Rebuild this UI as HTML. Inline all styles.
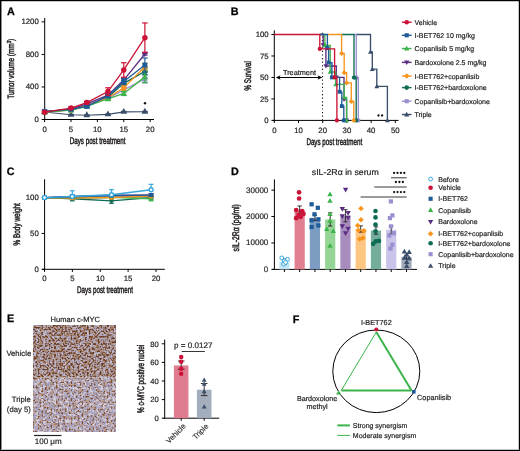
<!DOCTYPE html>
<html><head><meta charset="utf-8"><style>
html,body{margin:0;padding:0;background:#fff;}
body{width:520px;height:451px;overflow:hidden;}
svg{display:block;font-family:"Liberation Sans", sans-serif;text-rendering:geometricPrecision;will-change:transform;}
</style></head><body>
<svg width="520" height="451" viewBox="0 0 520 451">
<rect x="0" y="0" width="520" height="451" fill="#fff"/>
<text x="10.8" y="14.6" font-size="10.8" font-weight="bold" text-anchor="middle" fill="#000" stroke="#000" stroke-width="0.25">A</text>
<text x="234.55" y="14.7" font-size="10.8" font-weight="bold" text-anchor="middle" fill="#000" stroke="#000" stroke-width="0.25">B</text>
<text x="10.65" y="174.6" font-size="10.8" font-weight="bold" text-anchor="middle" fill="#000" stroke="#000" stroke-width="0.25">C</text>
<text x="234.95" y="174.8" font-size="10.8" font-weight="bold" text-anchor="middle" fill="#000" stroke="#000" stroke-width="0.25">D</text>
<text x="10.6" y="322.3" font-size="10.8" font-weight="bold" text-anchor="middle" fill="#000" stroke="#000" stroke-width="0.25">E</text>
<text x="296.15" y="322.5" font-size="10.8" font-weight="bold" text-anchor="middle" fill="#000" stroke="#000" stroke-width="0.25">F</text>
<line x1="44.70" y1="18.00" x2="44.70" y2="120.00" stroke="#000" stroke-width="1"/>
<line x1="42.20" y1="119.50" x2="154.00" y2="119.50" stroke="#000" stroke-width="1"/>
<line x1="41.60" y1="119.50" x2="44.70" y2="119.50" stroke="#000" stroke-width="1"/>
<text x="38.80" y="121.75" font-size="7.8" text-anchor="end" font-weight="normal" fill="#231f20" stroke="#231f20" stroke-width="0.2">0</text>
<line x1="41.60" y1="86.97" x2="44.70" y2="86.97" stroke="#000" stroke-width="1"/>
<text x="38.80" y="89.22" font-size="7.8" text-anchor="end" font-weight="normal" fill="#231f20" stroke="#231f20" stroke-width="0.2">400</text>
<line x1="41.60" y1="54.44" x2="44.70" y2="54.44" stroke="#000" stroke-width="1"/>
<text x="38.80" y="56.69" font-size="7.8" text-anchor="end" font-weight="normal" fill="#231f20" stroke="#231f20" stroke-width="0.2">800</text>
<line x1="41.60" y1="21.90" x2="44.70" y2="21.90" stroke="#000" stroke-width="1"/>
<text x="38.80" y="24.15" font-size="7.8" text-anchor="end" font-weight="normal" fill="#231f20" stroke="#231f20" stroke-width="0.2">1200</text>
<line x1="44.60" y1="119.50" x2="44.60" y2="122.10" stroke="#000" stroke-width="1"/>
<text x="44.60" y="131.50" font-size="7.8" text-anchor="middle" font-weight="normal" fill="#231f20" stroke="#231f20" stroke-width="0.2">0</text>
<line x1="70.99" y1="119.50" x2="70.99" y2="122.10" stroke="#000" stroke-width="1"/>
<text x="70.99" y="131.50" font-size="7.8" text-anchor="middle" font-weight="normal" fill="#231f20" stroke="#231f20" stroke-width="0.2">5</text>
<line x1="97.38" y1="119.50" x2="97.38" y2="122.10" stroke="#000" stroke-width="1"/>
<text x="97.38" y="131.50" font-size="7.8" text-anchor="middle" font-weight="normal" fill="#231f20" stroke="#231f20" stroke-width="0.2">10</text>
<line x1="123.77" y1="119.50" x2="123.77" y2="122.10" stroke="#000" stroke-width="1"/>
<text x="123.77" y="131.50" font-size="7.8" text-anchor="middle" font-weight="normal" fill="#231f20" stroke="#231f20" stroke-width="0.2">15</text>
<line x1="150.16" y1="119.50" x2="150.16" y2="122.10" stroke="#000" stroke-width="1"/>
<text x="150.16" y="131.50" font-size="7.8" text-anchor="middle" font-weight="normal" fill="#231f20" stroke="#231f20" stroke-width="0.2">20</text>
<text x="97.65" y="144.30" font-size="9.6" text-anchor="middle" fill="#231f20" stroke="#231f20" stroke-width="0.5" textLength="55.8" lengthAdjust="spacingAndGlyphs">Days post treatment</text>
<text transform="translate(14.4 68.8) rotate(-90)" font-size="9.2" text-anchor="middle" fill="#231f20" stroke="#231f20" stroke-width="0.5" textLength="60.0" lengthAdjust="spacingAndGlyphs">Tumor volume (mm<tspan font-size="6" dy="-3.4">3</tspan><tspan dy="3.4">)</tspan></text>
<line x1="70.99" y1="114.54" x2="70.99" y2="115.03" stroke="#3b4f6b" stroke-width="1.2"/>
<line x1="68.19" y1="114.54" x2="73.79" y2="114.54" stroke="#3b4f6b" stroke-width="1.2"/>
<line x1="68.19" y1="115.03" x2="73.79" y2="115.03" stroke="#3b4f6b" stroke-width="1.2"/>
<line x1="86.82" y1="115.03" x2="86.82" y2="115.51" stroke="#3b4f6b" stroke-width="1.2"/>
<line x1="84.02" y1="115.03" x2="89.62" y2="115.03" stroke="#3b4f6b" stroke-width="1.2"/>
<line x1="84.02" y1="115.51" x2="89.62" y2="115.51" stroke="#3b4f6b" stroke-width="1.2"/>
<line x1="107.94" y1="114.13" x2="107.94" y2="114.62" stroke="#3b4f6b" stroke-width="1.2"/>
<line x1="105.14" y1="114.13" x2="110.74" y2="114.13" stroke="#3b4f6b" stroke-width="1.2"/>
<line x1="105.14" y1="114.62" x2="110.74" y2="114.62" stroke="#3b4f6b" stroke-width="1.2"/>
<line x1="123.77" y1="111.45" x2="123.77" y2="112.26" stroke="#3b4f6b" stroke-width="1.2"/>
<line x1="120.97" y1="111.45" x2="126.57" y2="111.45" stroke="#3b4f6b" stroke-width="1.2"/>
<line x1="120.97" y1="112.26" x2="126.57" y2="112.26" stroke="#3b4f6b" stroke-width="1.2"/>
<line x1="144.88" y1="111.37" x2="144.88" y2="112.18" stroke="#3b4f6b" stroke-width="1.2"/>
<line x1="142.08" y1="111.37" x2="147.68" y2="111.37" stroke="#3b4f6b" stroke-width="1.2"/>
<line x1="142.08" y1="112.18" x2="147.68" y2="112.18" stroke="#3b4f6b" stroke-width="1.2"/>
<polyline points="44.60,112.02 70.99,114.78 86.82,115.27 107.94,114.38 123.77,111.85 144.88,111.77" fill="none" stroke="#3b4f6b" stroke-width="1.1"/>
<path d="M44.60 108.08L47.94 113.92L41.27 113.92Z" fill="#3b4f6b"/>
<path d="M70.99 110.85L74.32 116.68L67.66 116.68Z" fill="#3b4f6b"/>
<path d="M86.82 111.34L90.16 117.17L83.49 117.17Z" fill="#3b4f6b"/>
<path d="M107.94 110.44L111.27 116.28L104.60 116.28Z" fill="#3b4f6b"/>
<path d="M123.77 107.92L127.10 113.76L120.43 113.76Z" fill="#3b4f6b"/>
<path d="M144.88 107.84L148.22 113.67L141.55 113.67Z" fill="#3b4f6b"/>
<line x1="70.99" y1="109.50" x2="70.99" y2="110.31" stroke="#9c8fd0" stroke-width="1.2"/>
<line x1="68.19" y1="109.50" x2="73.79" y2="109.50" stroke="#9c8fd0" stroke-width="1.2"/>
<line x1="68.19" y1="110.31" x2="73.79" y2="110.31" stroke="#9c8fd0" stroke-width="1.2"/>
<line x1="86.82" y1="105.43" x2="86.82" y2="106.73" stroke="#9c8fd0" stroke-width="1.2"/>
<line x1="84.02" y1="105.43" x2="89.62" y2="105.43" stroke="#9c8fd0" stroke-width="1.2"/>
<line x1="84.02" y1="106.73" x2="89.62" y2="106.73" stroke="#9c8fd0" stroke-width="1.2"/>
<line x1="107.94" y1="96.97" x2="107.94" y2="99.41" stroke="#9c8fd0" stroke-width="1.2"/>
<line x1="105.14" y1="96.97" x2="110.74" y2="96.97" stroke="#9c8fd0" stroke-width="1.2"/>
<line x1="105.14" y1="99.41" x2="110.74" y2="99.41" stroke="#9c8fd0" stroke-width="1.2"/>
<line x1="123.77" y1="87.86" x2="123.77" y2="91.93" stroke="#9c8fd0" stroke-width="1.2"/>
<line x1="120.97" y1="87.86" x2="126.57" y2="87.86" stroke="#9c8fd0" stroke-width="1.2"/>
<line x1="120.97" y1="91.93" x2="126.57" y2="91.93" stroke="#9c8fd0" stroke-width="1.2"/>
<line x1="144.88" y1="74.93" x2="144.88" y2="83.06" stroke="#9c8fd0" stroke-width="1.2"/>
<line x1="142.08" y1="74.93" x2="147.68" y2="74.93" stroke="#9c8fd0" stroke-width="1.2"/>
<line x1="142.08" y1="83.06" x2="147.68" y2="83.06" stroke="#9c8fd0" stroke-width="1.2"/>
<polyline points="44.60,111.77 70.99,109.90 86.82,106.08 107.94,98.19 123.77,89.90 144.88,79.00" fill="none" stroke="#9c8fd0" stroke-width="1.3"/>
<rect x="42.12" y="109.30" width="4.95" height="4.95" fill="#9c8fd0"/>
<rect x="68.52" y="107.43" width="4.95" height="4.95" fill="#9c8fd0"/>
<rect x="84.35" y="103.61" width="4.95" height="4.95" fill="#9c8fd0"/>
<rect x="105.46" y="95.72" width="4.95" height="4.95" fill="#9c8fd0"/>
<rect x="121.29" y="87.42" width="4.95" height="4.95" fill="#9c8fd0"/>
<rect x="142.41" y="76.52" width="4.95" height="4.95" fill="#9c8fd0"/>
<line x1="70.99" y1="109.17" x2="70.99" y2="109.98" stroke="#0e6b55" stroke-width="1.2"/>
<line x1="68.19" y1="109.17" x2="73.79" y2="109.17" stroke="#0e6b55" stroke-width="1.2"/>
<line x1="68.19" y1="109.98" x2="73.79" y2="109.98" stroke="#0e6b55" stroke-width="1.2"/>
<line x1="86.82" y1="104.86" x2="86.82" y2="106.16" stroke="#0e6b55" stroke-width="1.2"/>
<line x1="84.02" y1="104.86" x2="89.62" y2="104.86" stroke="#0e6b55" stroke-width="1.2"/>
<line x1="84.02" y1="106.16" x2="89.62" y2="106.16" stroke="#0e6b55" stroke-width="1.2"/>
<line x1="107.94" y1="95.91" x2="107.94" y2="98.35" stroke="#0e6b55" stroke-width="1.2"/>
<line x1="105.14" y1="95.91" x2="110.74" y2="95.91" stroke="#0e6b55" stroke-width="1.2"/>
<line x1="105.14" y1="98.35" x2="110.74" y2="98.35" stroke="#0e6b55" stroke-width="1.2"/>
<line x1="123.77" y1="80.87" x2="123.77" y2="85.75" stroke="#0e6b55" stroke-width="1.2"/>
<line x1="120.97" y1="80.87" x2="126.57" y2="80.87" stroke="#0e6b55" stroke-width="1.2"/>
<line x1="120.97" y1="85.75" x2="126.57" y2="85.75" stroke="#0e6b55" stroke-width="1.2"/>
<line x1="144.88" y1="68.18" x2="144.88" y2="74.69" stroke="#0e6b55" stroke-width="1.2"/>
<line x1="142.08" y1="68.18" x2="147.68" y2="68.18" stroke="#0e6b55" stroke-width="1.2"/>
<line x1="142.08" y1="74.69" x2="147.68" y2="74.69" stroke="#0e6b55" stroke-width="1.2"/>
<polyline points="44.60,111.77 70.99,109.58 86.82,105.51 107.94,97.13 123.77,83.31 144.88,71.43" fill="none" stroke="#0e6b55" stroke-width="1.3"/>
<circle cx="44.60" cy="111.77" r="2.75" fill="#0e6b55"/>
<circle cx="70.99" cy="109.58" r="2.75" fill="#0e6b55"/>
<circle cx="86.82" cy="105.51" r="2.75" fill="#0e6b55"/>
<circle cx="107.94" cy="97.13" r="2.75" fill="#0e6b55"/>
<circle cx="123.77" cy="83.31" r="2.75" fill="#0e6b55"/>
<circle cx="144.88" cy="71.43" r="2.75" fill="#0e6b55"/>
<line x1="70.99" y1="109.50" x2="70.99" y2="110.31" stroke="#f7941d" stroke-width="1.2"/>
<line x1="68.19" y1="109.50" x2="73.79" y2="109.50" stroke="#f7941d" stroke-width="1.2"/>
<line x1="68.19" y1="110.31" x2="73.79" y2="110.31" stroke="#f7941d" stroke-width="1.2"/>
<line x1="86.82" y1="105.02" x2="86.82" y2="106.32" stroke="#f7941d" stroke-width="1.2"/>
<line x1="84.02" y1="105.02" x2="89.62" y2="105.02" stroke="#f7941d" stroke-width="1.2"/>
<line x1="84.02" y1="106.32" x2="89.62" y2="106.32" stroke="#f7941d" stroke-width="1.2"/>
<line x1="107.94" y1="96.48" x2="107.94" y2="98.92" stroke="#f7941d" stroke-width="1.2"/>
<line x1="105.14" y1="96.48" x2="110.74" y2="96.48" stroke="#f7941d" stroke-width="1.2"/>
<line x1="105.14" y1="98.92" x2="110.74" y2="98.92" stroke="#f7941d" stroke-width="1.2"/>
<line x1="123.77" y1="85.42" x2="123.77" y2="90.30" stroke="#f7941d" stroke-width="1.2"/>
<line x1="120.97" y1="85.42" x2="126.57" y2="85.42" stroke="#f7941d" stroke-width="1.2"/>
<line x1="120.97" y1="90.30" x2="126.57" y2="90.30" stroke="#f7941d" stroke-width="1.2"/>
<line x1="144.88" y1="63.54" x2="144.88" y2="70.05" stroke="#f7941d" stroke-width="1.2"/>
<line x1="142.08" y1="63.54" x2="147.68" y2="63.54" stroke="#f7941d" stroke-width="1.2"/>
<line x1="142.08" y1="70.05" x2="147.68" y2="70.05" stroke="#f7941d" stroke-width="1.2"/>
<polyline points="44.60,112.02 70.99,109.90 86.82,105.67 107.94,97.70 123.77,87.86 144.88,66.80" fill="none" stroke="#f7941d" stroke-width="1.3"/>
<path d="M44.60 108.72L47.90 112.02L44.60 115.32L41.30 112.02Z" fill="#f7941d"/>
<path d="M70.99 106.60L74.29 109.90L70.99 113.20L67.69 109.90Z" fill="#f7941d"/>
<path d="M86.82 102.37L90.12 105.67L86.82 108.97L83.52 105.67Z" fill="#f7941d"/>
<path d="M107.94 94.40L111.24 97.70L107.94 101.00L104.64 97.70Z" fill="#f7941d"/>
<path d="M123.77 84.56L127.07 87.86L123.77 91.16L120.47 87.86Z" fill="#f7941d"/>
<path d="M144.88 63.50L148.18 66.80L144.88 70.10L141.58 66.80Z" fill="#f7941d"/>
<line x1="70.99" y1="108.85" x2="70.99" y2="109.33" stroke="#5a2d82" stroke-width="1.2"/>
<line x1="68.19" y1="108.85" x2="73.79" y2="108.85" stroke="#5a2d82" stroke-width="1.2"/>
<line x1="68.19" y1="109.33" x2="73.79" y2="109.33" stroke="#5a2d82" stroke-width="1.2"/>
<line x1="86.82" y1="103.48" x2="86.82" y2="104.29" stroke="#5a2d82" stroke-width="1.2"/>
<line x1="84.02" y1="103.48" x2="89.62" y2="103.48" stroke="#5a2d82" stroke-width="1.2"/>
<line x1="84.02" y1="104.29" x2="89.62" y2="104.29" stroke="#5a2d82" stroke-width="1.2"/>
<line x1="107.94" y1="94.29" x2="107.94" y2="95.91" stroke="#5a2d82" stroke-width="1.2"/>
<line x1="105.14" y1="94.29" x2="110.74" y2="94.29" stroke="#5a2d82" stroke-width="1.2"/>
<line x1="105.14" y1="95.91" x2="110.74" y2="95.91" stroke="#5a2d82" stroke-width="1.2"/>
<line x1="123.77" y1="78.43" x2="123.77" y2="81.68" stroke="#5a2d82" stroke-width="1.2"/>
<line x1="120.97" y1="78.43" x2="126.57" y2="78.43" stroke="#5a2d82" stroke-width="1.2"/>
<line x1="120.97" y1="81.68" x2="126.57" y2="81.68" stroke="#5a2d82" stroke-width="1.2"/>
<line x1="144.88" y1="53.05" x2="144.88" y2="55.01" stroke="#5a2d82" stroke-width="1.2"/>
<line x1="142.08" y1="53.05" x2="147.68" y2="53.05" stroke="#5a2d82" stroke-width="1.2"/>
<line x1="142.08" y1="55.01" x2="147.68" y2="55.01" stroke="#5a2d82" stroke-width="1.2"/>
<polyline points="44.60,112.02 70.99,109.09 86.82,103.88 107.94,95.10 123.77,80.05 144.88,54.03" fill="none" stroke="#5a2d82" stroke-width="1.3"/>
<path d="M44.60 115.18L47.76 109.65L41.44 109.65Z" fill="#5a2d82"/>
<path d="M70.99 112.25L74.15 106.72L67.83 106.72Z" fill="#5a2d82"/>
<path d="M86.82 107.05L89.99 101.51L83.66 101.51Z" fill="#5a2d82"/>
<path d="M107.94 98.26L111.10 92.73L104.77 92.73Z" fill="#5a2d82"/>
<path d="M123.77 83.22L126.93 77.68L120.61 77.68Z" fill="#5a2d82"/>
<path d="M144.88 57.19L148.04 51.66L141.72 51.66Z" fill="#5a2d82"/>
<line x1="70.99" y1="109.74" x2="70.99" y2="110.55" stroke="#3cb44b" stroke-width="1.2"/>
<line x1="68.19" y1="109.74" x2="73.79" y2="109.74" stroke="#3cb44b" stroke-width="1.2"/>
<line x1="68.19" y1="110.55" x2="73.79" y2="110.55" stroke="#3cb44b" stroke-width="1.2"/>
<line x1="86.82" y1="105.84" x2="86.82" y2="107.14" stroke="#3cb44b" stroke-width="1.2"/>
<line x1="84.02" y1="105.84" x2="89.62" y2="105.84" stroke="#3cb44b" stroke-width="1.2"/>
<line x1="84.02" y1="107.14" x2="89.62" y2="107.14" stroke="#3cb44b" stroke-width="1.2"/>
<line x1="107.94" y1="97.54" x2="107.94" y2="99.98" stroke="#3cb44b" stroke-width="1.2"/>
<line x1="105.14" y1="97.54" x2="110.74" y2="97.54" stroke="#3cb44b" stroke-width="1.2"/>
<line x1="105.14" y1="99.98" x2="110.74" y2="99.98" stroke="#3cb44b" stroke-width="1.2"/>
<line x1="123.77" y1="91.44" x2="123.77" y2="95.51" stroke="#3cb44b" stroke-width="1.2"/>
<line x1="120.97" y1="91.44" x2="126.57" y2="91.44" stroke="#3cb44b" stroke-width="1.2"/>
<line x1="120.97" y1="95.51" x2="126.57" y2="95.51" stroke="#3cb44b" stroke-width="1.2"/>
<line x1="144.88" y1="71.35" x2="144.88" y2="82.41" stroke="#3cb44b" stroke-width="1.2"/>
<line x1="142.08" y1="71.35" x2="147.68" y2="71.35" stroke="#3cb44b" stroke-width="1.2"/>
<line x1="142.08" y1="82.41" x2="147.68" y2="82.41" stroke="#3cb44b" stroke-width="1.2"/>
<polyline points="44.60,112.18 70.99,110.15 86.82,106.49 107.94,98.76 123.77,93.47 144.88,76.88" fill="none" stroke="#3cb44b" stroke-width="1.3"/>
<path d="M44.60 109.02L47.76 114.55L41.44 114.55Z" fill="#3cb44b"/>
<path d="M70.99 106.98L74.15 112.52L67.83 112.52Z" fill="#3cb44b"/>
<path d="M86.82 103.32L89.99 108.86L83.66 108.86Z" fill="#3cb44b"/>
<path d="M107.94 95.60L111.10 101.13L104.77 101.13Z" fill="#3cb44b"/>
<path d="M123.77 90.31L126.93 95.85L120.61 95.85Z" fill="#3cb44b"/>
<path d="M144.88 73.72L148.04 79.25L141.72 79.25Z" fill="#3cb44b"/>
<line x1="70.99" y1="108.93" x2="70.99" y2="109.74" stroke="#1f5b98" stroke-width="1.2"/>
<line x1="68.19" y1="108.93" x2="73.79" y2="108.93" stroke="#1f5b98" stroke-width="1.2"/>
<line x1="68.19" y1="109.74" x2="73.79" y2="109.74" stroke="#1f5b98" stroke-width="1.2"/>
<line x1="86.82" y1="105.67" x2="86.82" y2="106.98" stroke="#1f5b98" stroke-width="1.2"/>
<line x1="84.02" y1="105.67" x2="89.62" y2="105.67" stroke="#1f5b98" stroke-width="1.2"/>
<line x1="84.02" y1="106.98" x2="89.62" y2="106.98" stroke="#1f5b98" stroke-width="1.2"/>
<line x1="107.94" y1="94.29" x2="107.94" y2="97.54" stroke="#1f5b98" stroke-width="1.2"/>
<line x1="105.14" y1="94.29" x2="110.74" y2="94.29" stroke="#1f5b98" stroke-width="1.2"/>
<line x1="105.14" y1="97.54" x2="110.74" y2="97.54" stroke="#1f5b98" stroke-width="1.2"/>
<line x1="123.77" y1="78.18" x2="123.77" y2="84.69" stroke="#1f5b98" stroke-width="1.2"/>
<line x1="120.97" y1="78.18" x2="126.57" y2="78.18" stroke="#1f5b98" stroke-width="1.2"/>
<line x1="120.97" y1="84.69" x2="126.57" y2="84.69" stroke="#1f5b98" stroke-width="1.2"/>
<line x1="144.88" y1="58.01" x2="144.88" y2="72.00" stroke="#1f5b98" stroke-width="1.2"/>
<line x1="142.08" y1="58.01" x2="147.68" y2="58.01" stroke="#1f5b98" stroke-width="1.2"/>
<line x1="142.08" y1="72.00" x2="147.68" y2="72.00" stroke="#1f5b98" stroke-width="1.2"/>
<polyline points="44.60,111.37 70.99,109.33 86.82,106.32 107.94,95.91 123.77,81.44 144.88,65.01" fill="none" stroke="#1f5b98" stroke-width="1.3"/>
<rect x="42.12" y="108.89" width="4.95" height="4.95" fill="#1f5b98"/>
<rect x="68.52" y="106.86" width="4.95" height="4.95" fill="#1f5b98"/>
<rect x="84.35" y="103.85" width="4.95" height="4.95" fill="#1f5b98"/>
<rect x="105.46" y="93.44" width="4.95" height="4.95" fill="#1f5b98"/>
<rect x="121.29" y="78.96" width="4.95" height="4.95" fill="#1f5b98"/>
<rect x="142.41" y="62.53" width="4.95" height="4.95" fill="#1f5b98"/>
<line x1="70.99" y1="107.46" x2="70.99" y2="108.76" stroke="#cc1236" stroke-width="1.2"/>
<line x1="68.19" y1="107.46" x2="73.79" y2="107.46" stroke="#cc1236" stroke-width="1.2"/>
<line x1="68.19" y1="108.76" x2="73.79" y2="108.76" stroke="#cc1236" stroke-width="1.2"/>
<line x1="86.82" y1="101.36" x2="86.82" y2="103.80" stroke="#cc1236" stroke-width="1.2"/>
<line x1="84.02" y1="101.36" x2="89.62" y2="101.36" stroke="#cc1236" stroke-width="1.2"/>
<line x1="84.02" y1="103.80" x2="89.62" y2="103.80" stroke="#cc1236" stroke-width="1.2"/>
<line x1="107.94" y1="87.78" x2="107.94" y2="95.26" stroke="#cc1236" stroke-width="1.2"/>
<line x1="105.14" y1="87.78" x2="110.74" y2="87.78" stroke="#cc1236" stroke-width="1.2"/>
<line x1="105.14" y1="95.26" x2="110.74" y2="95.26" stroke="#cc1236" stroke-width="1.2"/>
<line x1="123.77" y1="62.73" x2="123.77" y2="77.21" stroke="#cc1236" stroke-width="1.2"/>
<line x1="120.97" y1="62.73" x2="126.57" y2="62.73" stroke="#cc1236" stroke-width="1.2"/>
<line x1="120.97" y1="77.21" x2="126.57" y2="77.21" stroke="#cc1236" stroke-width="1.2"/>
<line x1="144.88" y1="22.96" x2="144.88" y2="52.40" stroke="#cc1236" stroke-width="1.2"/>
<line x1="142.08" y1="22.96" x2="147.68" y2="22.96" stroke="#cc1236" stroke-width="1.2"/>
<line x1="142.08" y1="52.40" x2="147.68" y2="52.40" stroke="#cc1236" stroke-width="1.2"/>
<polyline points="44.60,112.18 70.99,108.11 86.82,102.58 107.94,91.52 123.77,69.97 144.88,37.68" fill="none" stroke="#cc1236" stroke-width="1.3"/>
<circle cx="44.60" cy="112.18" r="2.75" fill="#cc1236"/>
<circle cx="70.99" cy="108.11" r="2.75" fill="#cc1236"/>
<circle cx="86.82" cy="102.58" r="2.75" fill="#cc1236"/>
<circle cx="107.94" cy="91.52" r="2.75" fill="#cc1236"/>
<circle cx="123.77" cy="69.97" r="2.75" fill="#cc1236"/>
<circle cx="144.88" cy="37.68" r="2.75" fill="#cc1236"/>
<circle cx="145.0" cy="103.2" r="1.2" fill="#111"/>
<line x1="274.30" y1="30.30" x2="274.30" y2="120.90" stroke="#000" stroke-width="1"/>
<line x1="272.40" y1="120.40" x2="398.60" y2="120.40" stroke="#000" stroke-width="1"/>
<line x1="271.40" y1="120.40" x2="274.30" y2="120.40" stroke="#000" stroke-width="1"/>
<text x="268.70" y="123.10" font-size="7.8" text-anchor="end" font-weight="normal" fill="#231f20" stroke="#231f20" stroke-width="0.2">0</text>
<line x1="271.40" y1="98.93" x2="274.30" y2="98.93" stroke="#000" stroke-width="1"/>
<text x="268.70" y="101.63" font-size="7.8" text-anchor="end" font-weight="normal" fill="#231f20" stroke="#231f20" stroke-width="0.2">25</text>
<line x1="271.40" y1="77.45" x2="274.30" y2="77.45" stroke="#000" stroke-width="1"/>
<text x="268.70" y="80.15" font-size="7.8" text-anchor="end" font-weight="normal" fill="#231f20" stroke="#231f20" stroke-width="0.2">50</text>
<line x1="271.40" y1="55.98" x2="274.30" y2="55.98" stroke="#000" stroke-width="1"/>
<text x="268.70" y="58.68" font-size="7.8" text-anchor="end" font-weight="normal" fill="#231f20" stroke="#231f20" stroke-width="0.2">75</text>
<line x1="271.40" y1="34.50" x2="274.30" y2="34.50" stroke="#000" stroke-width="1"/>
<text x="268.70" y="37.20" font-size="7.8" text-anchor="end" font-weight="normal" fill="#231f20" stroke="#231f20" stroke-width="0.2">100</text>
<line x1="274.30" y1="120.40" x2="274.30" y2="123.00" stroke="#000" stroke-width="1"/>
<text x="274.30" y="132.60" font-size="7.8" text-anchor="middle" font-weight="normal" fill="#231f20" stroke="#231f20" stroke-width="0.2">0</text>
<line x1="298.50" y1="120.40" x2="298.50" y2="123.00" stroke="#000" stroke-width="1"/>
<text x="298.50" y="132.60" font-size="7.8" text-anchor="middle" font-weight="normal" fill="#231f20" stroke="#231f20" stroke-width="0.2">10</text>
<line x1="322.70" y1="120.40" x2="322.70" y2="123.00" stroke="#000" stroke-width="1"/>
<text x="322.70" y="132.60" font-size="7.8" text-anchor="middle" font-weight="normal" fill="#231f20" stroke="#231f20" stroke-width="0.2">20</text>
<line x1="346.90" y1="120.40" x2="346.90" y2="123.00" stroke="#000" stroke-width="1"/>
<text x="346.90" y="132.60" font-size="7.8" text-anchor="middle" font-weight="normal" fill="#231f20" stroke="#231f20" stroke-width="0.2">30</text>
<line x1="371.10" y1="120.40" x2="371.10" y2="123.00" stroke="#000" stroke-width="1"/>
<text x="371.10" y="132.60" font-size="7.8" text-anchor="middle" font-weight="normal" fill="#231f20" stroke="#231f20" stroke-width="0.2">40</text>
<line x1="395.30" y1="120.40" x2="395.30" y2="123.00" stroke="#000" stroke-width="1"/>
<text x="395.30" y="132.60" font-size="7.8" text-anchor="middle" font-weight="normal" fill="#231f20" stroke="#231f20" stroke-width="0.2">50</text>
<text x="334.30" y="145.30" font-size="9.6" text-anchor="middle" fill="#231f20" stroke="#231f20" stroke-width="0.5" textLength="55.8" lengthAdjust="spacingAndGlyphs">Days post treatment</text>
<text transform="translate(250.60 75.80) rotate(-90)" font-size="9.6" text-anchor="middle" fill="#231f20" stroke="#231f20" stroke-width="0.5" textLength="29.2" lengthAdjust="spacingAndGlyphs">% Survival</text>
<line x1="322.50" y1="32.80" x2="322.50" y2="120.40" stroke="#111" stroke-width="1.1" stroke-dasharray="1.2,2.4"/>
<line x1="278.50" y1="77.50" x2="320.50" y2="77.50" stroke="#000" stroke-width="1"/>
<path d="M275.8 77.5 L280.6 75.3 L279.4 77.5 L280.6 79.7 Z" fill="#000"/>
<path d="M322.3 77.5 L317.5 75.3 L318.7 77.5 L317.5 79.7 Z" fill="#000"/>
<text x="299.50" y="74.90" font-size="7.2" text-anchor="middle" font-weight="normal" fill="#231f20" textLength="33" lengthAdjust="spacingAndGlyphs" stroke="#231f20" stroke-width="0.2">Treatment</text>
<path d="M356.30 34.50H370.50V51.90H372.30V69.10H376.80V86.40H387.40V120.40" fill="none" stroke="#3b4f6b" stroke-width="1.35"/>
<path d="M370.50 49.43L372.97 53.75L368.03 53.75Z" fill="#3b4f6b"/>
<path d="M372.30 66.63L374.77 70.95L369.83 70.95Z" fill="#3b4f6b"/>
<path d="M376.80 83.93L379.27 88.25L374.33 88.25Z" fill="#3b4f6b"/>
<path d="M387.40 117.93L389.87 122.25L384.93 122.25Z" fill="#3b4f6b"/>
<path d="M354.00 34.50H356.30V77.60H358.30V120.40" fill="none" stroke="#9c8fd0" stroke-width="1.35"/>
<rect x="354.37" y="75.66" width="3.87" height="3.87" fill="#9c8fd0"/>
<rect x="356.37" y="118.47" width="3.87" height="3.87" fill="#9c8fd0"/>
<path d="M341.60 34.50H354.00V77.60H356.20V120.40" fill="none" stroke="#0e6b55" stroke-width="1.35"/>
<circle cx="354.00" cy="77.60" r="2.15" fill="#0e6b55"/>
<circle cx="356.20" cy="120.40" r="2.15" fill="#0e6b55"/>
<path d="M327.40 34.50H341.60V53.50H344.20V72.70H346.60V82.90H351.30V101.40H353.80V120.40" fill="none" stroke="#f7941d" stroke-width="1.35"/>
<path d="M341.60 50.92L344.18 53.50L341.60 56.08L339.02 53.50Z" fill="#f7941d"/>
<path d="M344.20 70.12L346.78 72.70L344.20 75.28L341.62 72.70Z" fill="#f7941d"/>
<path d="M346.60 80.32L349.18 82.90L346.60 85.48L344.02 82.90Z" fill="#f7941d"/>
<path d="M351.30 98.82L353.88 101.40L351.30 103.98L348.72 101.40Z" fill="#f7941d"/>
<path d="M353.80 117.82L356.38 120.40L353.80 122.98L351.22 120.40Z" fill="#f7941d"/>
<path d="M319.80 34.50H323.20V45.20H325.90V66.00H336.30V77.40H344.00V99.60H346.60V120.40" fill="none" stroke="#5a2d82" stroke-width="1.35"/>
<path d="M323.20 47.67L325.67 43.35L320.73 43.35Z" fill="#5a2d82"/>
<path d="M325.90 68.47L328.37 64.15L323.43 64.15Z" fill="#5a2d82"/>
<path d="M336.30 79.87L338.77 75.55L333.83 75.55Z" fill="#5a2d82"/>
<path d="M344.00 102.07L346.47 97.75L341.53 97.75Z" fill="#5a2d82"/>
<path d="M346.60 122.87L349.07 118.55L344.13 118.55Z" fill="#5a2d82"/>
<path d="M319.80 34.50H324.90V45.50H330.20V72.00H335.70V84.40H344.20V97.40H346.60V120.40" fill="none" stroke="#3cb44b" stroke-width="1.35"/>
<path d="M324.90 43.03L327.37 47.35L322.43 47.35Z" fill="#3cb44b"/>
<path d="M330.20 69.53L332.67 73.85L327.73 73.85Z" fill="#3cb44b"/>
<path d="M335.70 81.93L338.17 86.25L333.23 86.25Z" fill="#3cb44b"/>
<path d="M344.20 94.93L346.67 99.25L341.73 99.25Z" fill="#3cb44b"/>
<path d="M346.60 117.93L349.07 122.25L344.13 122.25Z" fill="#3cb44b"/>
<path d="M319.80 34.50H327.40V48.20H328.60V62.60H331.90V77.40H339.60V91.80H341.80V106.10H343.80V120.40" fill="none" stroke="#1f5b98" stroke-width="1.35"/>
<rect x="325.46" y="46.27" width="3.87" height="3.87" fill="#1f5b98"/>
<rect x="326.67" y="60.66" width="3.87" height="3.87" fill="#1f5b98"/>
<rect x="329.96" y="75.47" width="3.87" height="3.87" fill="#1f5b98"/>
<rect x="337.67" y="89.86" width="3.87" height="3.87" fill="#1f5b98"/>
<rect x="339.87" y="104.16" width="3.87" height="3.87" fill="#1f5b98"/>
<rect x="341.87" y="118.47" width="3.87" height="3.87" fill="#1f5b98"/>
<path d="M274.30 34.50H319.80V48.90H334.60V77.40H336.90V120.40" fill="none" stroke="#cc1236" stroke-width="1.35"/>
<circle cx="319.80" cy="48.90" r="2.15" fill="#cc1236"/>
<circle cx="334.60" cy="77.40" r="2.15" fill="#cc1236"/>
<circle cx="336.90" cy="120.40" r="2.15" fill="#cc1236"/>
<circle cx="378.5" cy="115.5" r="1.15" fill="#111"/>
<circle cx="382.1" cy="115.5" r="1.15" fill="#111"/>
<line x1="401.90" y1="22.20" x2="411.60" y2="22.20" stroke="#cc1236" stroke-width="1.4"/>
<circle cx="406.70" cy="22.20" r="2.30" fill="#cc1236"/>
<text x="414.50" y="24.70" font-size="7.0" text-anchor="start" font-weight="normal" fill="#231f20" stroke="#231f20" stroke-width="0.2">Vehicle</text>
<line x1="401.90" y1="35.30" x2="411.60" y2="35.30" stroke="#1f5b98" stroke-width="1.4"/>
<rect x="404.63" y="33.23" width="4.14" height="4.14" fill="#1f5b98"/>
<text x="414.50" y="37.80" font-size="7.0" text-anchor="start" font-weight="normal" fill="#231f20" stroke="#231f20" stroke-width="0.2">I-BET762 10 mg/kg</text>
<line x1="401.90" y1="48.50" x2="411.60" y2="48.50" stroke="#3cb44b" stroke-width="1.4"/>
<path d="M406.70 45.86L409.34 50.48L404.06 50.48Z" fill="#3cb44b"/>
<text x="414.50" y="51.00" font-size="7.0" text-anchor="start" font-weight="normal" fill="#231f20" stroke="#231f20" stroke-width="0.2">Copanlisib 5 mg/kg</text>
<line x1="401.90" y1="62.40" x2="411.60" y2="62.40" stroke="#5a2d82" stroke-width="1.4"/>
<path d="M406.70 65.05L409.34 60.42L404.06 60.42Z" fill="#5a2d82"/>
<text x="414.50" y="64.90" font-size="7.0" text-anchor="start" font-weight="normal" fill="#231f20" stroke="#231f20" stroke-width="0.2">Bardoxolone 2.5 mg/kg</text>
<line x1="401.90" y1="76.10" x2="411.60" y2="76.10" stroke="#f7941d" stroke-width="1.4"/>
<path d="M406.70 73.34L409.46 76.10L406.70 78.86L403.94 76.10Z" fill="#f7941d"/>
<text x="414.50" y="78.60" font-size="7.0" text-anchor="start" font-weight="normal" fill="#231f20" stroke="#231f20" stroke-width="0.2">I-BET762+copanlisib</text>
<line x1="401.90" y1="87.60" x2="411.60" y2="87.60" stroke="#0e6b55" stroke-width="1.4"/>
<circle cx="406.70" cy="87.60" r="2.30" fill="#0e6b55"/>
<text x="414.50" y="90.10" font-size="7.0" text-anchor="start" font-weight="normal" fill="#231f20" stroke="#231f20" stroke-width="0.2">I-BET762+bardoxolone</text>
<line x1="401.90" y1="101.20" x2="411.60" y2="101.20" stroke="#9c8fd0" stroke-width="1.4"/>
<rect x="404.63" y="99.13" width="4.14" height="4.14" fill="#9c8fd0"/>
<text x="414.50" y="103.70" font-size="7.0" text-anchor="start" font-weight="normal" fill="#231f20" stroke="#231f20" stroke-width="0.2">Copanlisib+bardoxolone</text>
<line x1="401.90" y1="114.50" x2="411.60" y2="114.50" stroke="#3b4f6b" stroke-width="1.4"/>
<path d="M406.70 111.86L409.34 116.48L404.06 116.48Z" fill="#3b4f6b"/>
<text x="414.50" y="117.00" font-size="7.0" text-anchor="start" font-weight="normal" fill="#231f20" stroke="#231f20" stroke-width="0.2">Triple</text>
<line x1="44.60" y1="179.30" x2="44.60" y2="269.80" stroke="#000" stroke-width="1"/>
<line x1="42.20" y1="269.30" x2="164.80" y2="269.30" stroke="#000" stroke-width="1"/>
<line x1="41.60" y1="269.30" x2="44.60" y2="269.30" stroke="#000" stroke-width="1"/>
<text x="38.80" y="271.65" font-size="7.8" text-anchor="end" font-weight="normal" fill="#231f20" stroke="#231f20" stroke-width="0.2">0</text>
<line x1="41.60" y1="233.45" x2="44.60" y2="233.45" stroke="#000" stroke-width="1"/>
<text x="38.80" y="235.80" font-size="7.8" text-anchor="end" font-weight="normal" fill="#231f20" stroke="#231f20" stroke-width="0.2">50</text>
<line x1="41.60" y1="197.60" x2="44.60" y2="197.60" stroke="#000" stroke-width="1"/>
<text x="38.80" y="199.95" font-size="7.8" text-anchor="end" font-weight="normal" fill="#231f20" stroke="#231f20" stroke-width="0.2">100</text>
<line x1="44.50" y1="269.30" x2="44.50" y2="271.90" stroke="#000" stroke-width="1"/>
<text x="44.50" y="281.30" font-size="7.8" text-anchor="middle" font-weight="normal" fill="#231f20" stroke="#231f20" stroke-width="0.2">0</text>
<line x1="72.38" y1="269.30" x2="72.38" y2="271.90" stroke="#000" stroke-width="1"/>
<text x="72.38" y="281.30" font-size="7.8" text-anchor="middle" font-weight="normal" fill="#231f20" stroke="#231f20" stroke-width="0.2">5</text>
<line x1="100.25" y1="269.30" x2="100.25" y2="271.90" stroke="#000" stroke-width="1"/>
<text x="100.25" y="281.30" font-size="7.8" text-anchor="middle" font-weight="normal" fill="#231f20" stroke="#231f20" stroke-width="0.2">10</text>
<line x1="128.12" y1="269.30" x2="128.12" y2="271.90" stroke="#000" stroke-width="1"/>
<text x="128.12" y="281.30" font-size="7.8" text-anchor="middle" font-weight="normal" fill="#231f20" stroke="#231f20" stroke-width="0.2">15</text>
<line x1="156.00" y1="269.30" x2="156.00" y2="271.90" stroke="#000" stroke-width="1"/>
<text x="156.00" y="281.30" font-size="7.8" text-anchor="middle" font-weight="normal" fill="#231f20" stroke="#231f20" stroke-width="0.2">20</text>
<text x="105.00" y="293.30" font-size="9.6" text-anchor="middle" fill="#231f20" stroke="#231f20" stroke-width="0.5" textLength="55.8" lengthAdjust="spacingAndGlyphs">Days post treatment</text>
<text transform="translate(19.60 224.30) rotate(-90)" font-size="9.6" text-anchor="middle" fill="#231f20" stroke="#231f20" stroke-width="0.5" textLength="42.4" lengthAdjust="spacingAndGlyphs">% Body weight</text>
<line x1="72.30" y1="196.52" x2="72.30" y2="199.39" stroke="#3b4f6b" stroke-width="1.2"/>
<line x1="69.90" y1="196.52" x2="74.70" y2="196.52" stroke="#3b4f6b" stroke-width="1.2"/>
<line x1="69.90" y1="199.39" x2="74.70" y2="199.39" stroke="#3b4f6b" stroke-width="1.2"/>
<line x1="111.50" y1="195.81" x2="111.50" y2="198.68" stroke="#3b4f6b" stroke-width="1.2"/>
<line x1="109.10" y1="195.81" x2="113.90" y2="195.81" stroke="#3b4f6b" stroke-width="1.2"/>
<line x1="109.10" y1="198.68" x2="113.90" y2="198.68" stroke="#3b4f6b" stroke-width="1.2"/>
<line x1="151.10" y1="195.09" x2="151.10" y2="197.96" stroke="#3b4f6b" stroke-width="1.2"/>
<line x1="148.70" y1="195.09" x2="153.50" y2="195.09" stroke="#3b4f6b" stroke-width="1.2"/>
<line x1="148.70" y1="197.96" x2="153.50" y2="197.96" stroke="#3b4f6b" stroke-width="1.2"/>
<polyline points="44.50,197.60 72.30,197.96 111.50,197.24 151.10,196.52" fill="none" stroke="#3b4f6b" stroke-width="1.4"/>
<path d="M44.50 195.19L46.91 199.41L42.09 199.41Z" fill="#3b4f6b"/>
<path d="M72.30 195.54L74.72 199.77L69.88 199.77Z" fill="#3b4f6b"/>
<path d="M111.50 194.83L113.92 199.05L109.08 199.05Z" fill="#3b4f6b"/>
<path d="M151.10 194.11L153.51 198.34L148.69 198.34Z" fill="#3b4f6b"/>
<line x1="72.30" y1="195.45" x2="72.30" y2="198.32" stroke="#9c8fd0" stroke-width="1.2"/>
<line x1="69.90" y1="195.45" x2="74.70" y2="195.45" stroke="#9c8fd0" stroke-width="1.2"/>
<line x1="69.90" y1="198.32" x2="74.70" y2="198.32" stroke="#9c8fd0" stroke-width="1.2"/>
<line x1="111.50" y1="194.73" x2="111.50" y2="197.60" stroke="#9c8fd0" stroke-width="1.2"/>
<line x1="109.10" y1="194.73" x2="113.90" y2="194.73" stroke="#9c8fd0" stroke-width="1.2"/>
<line x1="109.10" y1="197.60" x2="113.90" y2="197.60" stroke="#9c8fd0" stroke-width="1.2"/>
<line x1="151.10" y1="194.37" x2="151.10" y2="197.24" stroke="#9c8fd0" stroke-width="1.2"/>
<line x1="148.70" y1="194.37" x2="153.50" y2="194.37" stroke="#9c8fd0" stroke-width="1.2"/>
<line x1="148.70" y1="197.24" x2="153.50" y2="197.24" stroke="#9c8fd0" stroke-width="1.2"/>
<polyline points="44.50,197.60 72.30,196.88 111.50,196.17 151.10,195.81" fill="none" stroke="#9c8fd0" stroke-width="1.4"/>
<rect x="42.61" y="195.71" width="3.78" height="3.78" fill="#9c8fd0"/>
<rect x="70.41" y="194.99" width="3.78" height="3.78" fill="#9c8fd0"/>
<rect x="109.61" y="194.28" width="3.78" height="3.78" fill="#9c8fd0"/>
<rect x="149.21" y="193.92" width="3.78" height="3.78" fill="#9c8fd0"/>
<line x1="72.30" y1="195.09" x2="72.30" y2="197.96" stroke="#5a2d82" stroke-width="1.2"/>
<line x1="69.90" y1="195.09" x2="74.70" y2="195.09" stroke="#5a2d82" stroke-width="1.2"/>
<line x1="69.90" y1="197.96" x2="74.70" y2="197.96" stroke="#5a2d82" stroke-width="1.2"/>
<line x1="111.50" y1="193.66" x2="111.50" y2="196.52" stroke="#5a2d82" stroke-width="1.2"/>
<line x1="109.10" y1="193.66" x2="113.90" y2="193.66" stroke="#5a2d82" stroke-width="1.2"/>
<line x1="109.10" y1="196.52" x2="113.90" y2="196.52" stroke="#5a2d82" stroke-width="1.2"/>
<line x1="151.10" y1="193.66" x2="151.10" y2="196.52" stroke="#5a2d82" stroke-width="1.2"/>
<line x1="148.70" y1="193.66" x2="153.50" y2="193.66" stroke="#5a2d82" stroke-width="1.2"/>
<line x1="148.70" y1="196.52" x2="153.50" y2="196.52" stroke="#5a2d82" stroke-width="1.2"/>
<polyline points="44.50,197.60 72.30,196.52 111.50,195.09 151.10,195.09" fill="none" stroke="#5a2d82" stroke-width="1.4"/>
<path d="M44.50 200.02L46.91 195.79L42.09 195.79Z" fill="#5a2d82"/>
<path d="M72.30 198.94L74.72 194.71L69.88 194.71Z" fill="#5a2d82"/>
<path d="M111.50 197.51L113.92 193.28L109.08 193.28Z" fill="#5a2d82"/>
<path d="M151.10 197.51L153.51 193.28L148.69 193.28Z" fill="#5a2d82"/>
<line x1="72.30" y1="196.52" x2="72.30" y2="200.83" stroke="#0e6b55" stroke-width="1.2"/>
<line x1="69.90" y1="196.52" x2="74.70" y2="196.52" stroke="#0e6b55" stroke-width="1.2"/>
<line x1="69.90" y1="200.83" x2="74.70" y2="200.83" stroke="#0e6b55" stroke-width="1.2"/>
<line x1="111.50" y1="198.32" x2="111.50" y2="203.34" stroke="#0e6b55" stroke-width="1.2"/>
<line x1="109.10" y1="198.32" x2="113.90" y2="198.32" stroke="#0e6b55" stroke-width="1.2"/>
<line x1="109.10" y1="203.34" x2="113.90" y2="203.34" stroke="#0e6b55" stroke-width="1.2"/>
<line x1="151.10" y1="195.45" x2="151.10" y2="199.75" stroke="#0e6b55" stroke-width="1.2"/>
<line x1="148.70" y1="195.45" x2="153.50" y2="195.45" stroke="#0e6b55" stroke-width="1.2"/>
<line x1="148.70" y1="199.75" x2="153.50" y2="199.75" stroke="#0e6b55" stroke-width="1.2"/>
<polyline points="44.50,197.60 72.30,198.68 111.50,200.83 151.10,197.60" fill="none" stroke="#0e6b55" stroke-width="1.4"/>
<circle cx="44.50" cy="197.60" r="2.10" fill="#0e6b55"/>
<circle cx="72.30" cy="198.68" r="2.10" fill="#0e6b55"/>
<circle cx="111.50" cy="200.83" r="2.10" fill="#0e6b55"/>
<circle cx="151.10" cy="197.60" r="2.10" fill="#0e6b55"/>
<line x1="72.30" y1="196.17" x2="72.30" y2="199.03" stroke="#3cb44b" stroke-width="1.2"/>
<line x1="69.90" y1="196.17" x2="74.70" y2="196.17" stroke="#3cb44b" stroke-width="1.2"/>
<line x1="69.90" y1="199.03" x2="74.70" y2="199.03" stroke="#3cb44b" stroke-width="1.2"/>
<line x1="111.50" y1="195.81" x2="111.50" y2="198.68" stroke="#3cb44b" stroke-width="1.2"/>
<line x1="109.10" y1="195.81" x2="113.90" y2="195.81" stroke="#3cb44b" stroke-width="1.2"/>
<line x1="109.10" y1="198.68" x2="113.90" y2="198.68" stroke="#3cb44b" stroke-width="1.2"/>
<line x1="151.10" y1="196.52" x2="151.10" y2="200.83" stroke="#3cb44b" stroke-width="1.2"/>
<line x1="148.70" y1="196.52" x2="153.50" y2="196.52" stroke="#3cb44b" stroke-width="1.2"/>
<line x1="148.70" y1="200.83" x2="153.50" y2="200.83" stroke="#3cb44b" stroke-width="1.2"/>
<polyline points="44.50,197.60 72.30,197.60 111.50,197.24 151.10,198.68" fill="none" stroke="#3cb44b" stroke-width="1.4"/>
<path d="M44.50 195.19L46.91 199.41L42.09 199.41Z" fill="#3cb44b"/>
<path d="M72.30 195.19L74.72 199.41L69.88 199.41Z" fill="#3cb44b"/>
<path d="M111.50 194.83L113.92 199.05L109.08 199.05Z" fill="#3cb44b"/>
<path d="M151.10 196.26L153.51 200.49L148.69 200.49Z" fill="#3cb44b"/>
<line x1="72.30" y1="196.52" x2="72.30" y2="199.39" stroke="#f7941d" stroke-width="1.2"/>
<line x1="69.90" y1="196.52" x2="74.70" y2="196.52" stroke="#f7941d" stroke-width="1.2"/>
<line x1="69.90" y1="199.39" x2="74.70" y2="199.39" stroke="#f7941d" stroke-width="1.2"/>
<line x1="111.50" y1="196.02" x2="111.50" y2="198.89" stroke="#f7941d" stroke-width="1.2"/>
<line x1="109.10" y1="196.02" x2="113.90" y2="196.02" stroke="#f7941d" stroke-width="1.2"/>
<line x1="109.10" y1="198.89" x2="113.90" y2="198.89" stroke="#f7941d" stroke-width="1.2"/>
<line x1="151.10" y1="194.73" x2="151.10" y2="197.60" stroke="#f7941d" stroke-width="1.2"/>
<line x1="148.70" y1="194.73" x2="153.50" y2="194.73" stroke="#f7941d" stroke-width="1.2"/>
<line x1="148.70" y1="197.60" x2="153.50" y2="197.60" stroke="#f7941d" stroke-width="1.2"/>
<polyline points="44.50,197.60 72.30,197.96 111.50,197.46 151.10,196.17" fill="none" stroke="#f7941d" stroke-width="1.4"/>
<path d="M44.50 195.08L47.02 197.60L44.50 200.12L41.98 197.60Z" fill="#f7941d"/>
<path d="M72.30 195.44L74.82 197.96L72.30 200.48L69.78 197.96Z" fill="#f7941d"/>
<path d="M111.50 194.94L114.02 197.46L111.50 199.98L108.98 197.46Z" fill="#f7941d"/>
<path d="M151.10 193.65L153.62 196.17L151.10 198.69L148.58 196.17Z" fill="#f7941d"/>
<line x1="72.30" y1="195.31" x2="72.30" y2="198.17" stroke="#1f5b98" stroke-width="1.2"/>
<line x1="69.90" y1="195.31" x2="74.70" y2="195.31" stroke="#1f5b98" stroke-width="1.2"/>
<line x1="69.90" y1="198.17" x2="74.70" y2="198.17" stroke="#1f5b98" stroke-width="1.2"/>
<line x1="111.50" y1="194.16" x2="111.50" y2="197.03" stroke="#1f5b98" stroke-width="1.2"/>
<line x1="109.10" y1="194.16" x2="113.90" y2="194.16" stroke="#1f5b98" stroke-width="1.2"/>
<line x1="109.10" y1="197.03" x2="113.90" y2="197.03" stroke="#1f5b98" stroke-width="1.2"/>
<line x1="151.10" y1="193.66" x2="151.10" y2="196.52" stroke="#1f5b98" stroke-width="1.2"/>
<line x1="148.70" y1="193.66" x2="153.50" y2="193.66" stroke="#1f5b98" stroke-width="1.2"/>
<line x1="148.70" y1="196.52" x2="153.50" y2="196.52" stroke="#1f5b98" stroke-width="1.2"/>
<polyline points="44.50,197.60 72.30,196.74 111.50,195.59 151.10,195.09" fill="none" stroke="#1f5b98" stroke-width="1.4"/>
<rect x="42.61" y="195.71" width="3.78" height="3.78" fill="#1f5b98"/>
<rect x="70.41" y="194.85" width="3.78" height="3.78" fill="#1f5b98"/>
<rect x="109.61" y="193.70" width="3.78" height="3.78" fill="#1f5b98"/>
<rect x="149.21" y="193.20" width="3.78" height="3.78" fill="#1f5b98"/>
<line x1="72.30" y1="190.79" x2="72.30" y2="196.52" stroke="#35a7dd" stroke-width="1.2"/>
<line x1="69.90" y1="190.79" x2="74.70" y2="190.79" stroke="#35a7dd" stroke-width="1.2"/>
<line x1="111.50" y1="189.71" x2="111.50" y2="194.73" stroke="#35a7dd" stroke-width="1.2"/>
<line x1="109.10" y1="189.71" x2="113.90" y2="189.71" stroke="#35a7dd" stroke-width="1.2"/>
<line x1="151.10" y1="184.34" x2="151.10" y2="189.71" stroke="#35a7dd" stroke-width="1.2"/>
<line x1="148.70" y1="184.34" x2="153.50" y2="184.34" stroke="#35a7dd" stroke-width="1.2"/>
<polyline points="44.50,197.60 72.30,196.52 111.50,194.73 151.10,189.71" fill="none" stroke="#35a7dd" stroke-width="1.4"/>
<circle cx="44.50" cy="197.60" r="2.0" fill="#fff" stroke="#35a7dd" stroke-width="1.35"/>
<circle cx="72.30" cy="196.52" r="2.0" fill="#fff" stroke="#35a7dd" stroke-width="1.35"/>
<circle cx="111.50" cy="194.73" r="2.0" fill="#fff" stroke="#35a7dd" stroke-width="1.35"/>
<circle cx="151.10" cy="189.71" r="2.0" fill="#fff" stroke="#35a7dd" stroke-width="1.35"/>
<line x1="274.40" y1="179.40" x2="274.40" y2="269.90" stroke="#000" stroke-width="1"/>
<line x1="272.40" y1="269.40" x2="417.00" y2="269.40" stroke="#000" stroke-width="1"/>
<line x1="271.40" y1="269.40" x2="274.40" y2="269.40" stroke="#000" stroke-width="1"/>
<text x="268.30" y="271.90" font-size="8.0" text-anchor="end" font-weight="normal" fill="#231f20" stroke="#231f20" stroke-width="0.2">0</text>
<line x1="271.40" y1="242.97" x2="274.40" y2="242.97" stroke="#000" stroke-width="1"/>
<text x="268.30" y="245.47" font-size="8.0" text-anchor="end" font-weight="normal" fill="#231f20" stroke="#231f20" stroke-width="0.2">10000</text>
<line x1="271.40" y1="216.54" x2="274.40" y2="216.54" stroke="#000" stroke-width="1"/>
<text x="268.30" y="219.04" font-size="8.0" text-anchor="end" font-weight="normal" fill="#231f20" stroke="#231f20" stroke-width="0.2">20000</text>
<line x1="271.40" y1="190.11" x2="274.40" y2="190.11" stroke="#000" stroke-width="1"/>
<text x="268.30" y="192.61" font-size="8.0" text-anchor="end" font-weight="normal" fill="#231f20" stroke="#231f20" stroke-width="0.2">30000</text>
<text transform="translate(238.90 227.80) rotate(-90)" font-size="9.6" text-anchor="middle" fill="#231f20" stroke="#231f20" stroke-width="0.5" textLength="47.4" lengthAdjust="spacingAndGlyphs">sIL-2R&#945; (pg/ml)</text>
<text x="345.30" y="175.00" font-size="8.5" text-anchor="middle" font-weight="normal" fill="#231f20" textLength="67" lengthAdjust="spacingAndGlyphs" stroke="#231f20" stroke-width="0.2">sIL-2R&#945; in serum</text>
<rect x="279.30" y="261.74" width="10.2" height="7.66" fill="#c2e5f6"/>
<line x1="284.40" y1="269.40" x2="284.40" y2="272.00" stroke="#000" stroke-width="1"/>
<rect x="294.56" y="209.93" width="10.2" height="59.47" fill="#e27f91"/>
<line x1="299.66" y1="269.40" x2="299.66" y2="272.00" stroke="#000" stroke-width="1"/>
<rect x="309.82" y="217.86" width="10.2" height="51.54" fill="#7c9dc1"/>
<line x1="314.92" y1="269.40" x2="314.92" y2="272.00" stroke="#000" stroke-width="1"/>
<rect x="325.08" y="219.45" width="10.2" height="49.95" fill="#96d596"/>
<line x1="330.18" y1="269.40" x2="330.18" y2="272.00" stroke="#000" stroke-width="1"/>
<rect x="340.34" y="215.75" width="10.2" height="53.65" fill="#a88cbe"/>
<line x1="345.44" y1="269.40" x2="345.44" y2="272.00" stroke="#000" stroke-width="1"/>
<rect x="355.60" y="228.96" width="10.2" height="40.44" fill="#fec683"/>
<line x1="360.70" y1="269.40" x2="360.70" y2="272.00" stroke="#000" stroke-width="1"/>
<rect x="370.86" y="230.55" width="10.2" height="38.85" fill="#74ad9b"/>
<line x1="375.96" y1="269.40" x2="375.96" y2="272.00" stroke="#000" stroke-width="1"/>
<rect x="386.12" y="229.75" width="10.2" height="39.64" fill="#cac4ea"/>
<line x1="391.22" y1="269.40" x2="391.22" y2="272.00" stroke="#000" stroke-width="1"/>
<rect x="401.38" y="256.98" width="10.2" height="12.42" fill="#a0aab9"/>
<line x1="406.48" y1="269.40" x2="406.48" y2="272.00" stroke="#000" stroke-width="1"/>
<line x1="284.40" y1="259.09" x2="284.40" y2="264.38" stroke="#231f20" stroke-width="0.9"/>
<line x1="282.20" y1="259.09" x2="286.60" y2="259.09" stroke="#231f20" stroke-width="0.9"/>
<line x1="282.20" y1="264.38" x2="286.60" y2="264.38" stroke="#231f20" stroke-width="0.9"/>
<line x1="299.66" y1="205.97" x2="299.66" y2="213.90" stroke="#231f20" stroke-width="0.9"/>
<line x1="297.46" y1="205.97" x2="301.86" y2="205.97" stroke="#231f20" stroke-width="0.9"/>
<line x1="297.46" y1="213.90" x2="301.86" y2="213.90" stroke="#231f20" stroke-width="0.9"/>
<line x1="314.92" y1="215.22" x2="314.92" y2="220.50" stroke="#231f20" stroke-width="0.9"/>
<line x1="312.72" y1="215.22" x2="317.12" y2="215.22" stroke="#231f20" stroke-width="0.9"/>
<line x1="312.72" y1="220.50" x2="317.12" y2="220.50" stroke="#231f20" stroke-width="0.9"/>
<line x1="330.18" y1="212.84" x2="330.18" y2="226.05" stroke="#231f20" stroke-width="0.9"/>
<line x1="327.98" y1="212.84" x2="332.38" y2="212.84" stroke="#231f20" stroke-width="0.9"/>
<line x1="327.98" y1="226.05" x2="332.38" y2="226.05" stroke="#231f20" stroke-width="0.9"/>
<line x1="345.44" y1="209.67" x2="345.44" y2="221.83" stroke="#231f20" stroke-width="0.9"/>
<line x1="343.24" y1="209.67" x2="347.64" y2="209.67" stroke="#231f20" stroke-width="0.9"/>
<line x1="343.24" y1="221.83" x2="347.64" y2="221.83" stroke="#231f20" stroke-width="0.9"/>
<line x1="360.70" y1="225.79" x2="360.70" y2="232.13" stroke="#231f20" stroke-width="0.9"/>
<line x1="358.50" y1="225.79" x2="362.90" y2="225.79" stroke="#231f20" stroke-width="0.9"/>
<line x1="358.50" y1="232.13" x2="362.90" y2="232.13" stroke="#231f20" stroke-width="0.9"/>
<line x1="375.96" y1="226.85" x2="375.96" y2="234.25" stroke="#231f20" stroke-width="0.9"/>
<line x1="373.76" y1="226.85" x2="378.16" y2="226.85" stroke="#231f20" stroke-width="0.9"/>
<line x1="373.76" y1="234.25" x2="378.16" y2="234.25" stroke="#231f20" stroke-width="0.9"/>
<line x1="391.22" y1="225.79" x2="391.22" y2="233.72" stroke="#231f20" stroke-width="0.9"/>
<line x1="389.02" y1="225.79" x2="393.42" y2="225.79" stroke="#231f20" stroke-width="0.9"/>
<line x1="389.02" y1="233.72" x2="393.42" y2="233.72" stroke="#231f20" stroke-width="0.9"/>
<line x1="406.48" y1="255.13" x2="406.48" y2="258.83" stroke="#231f20" stroke-width="0.9"/>
<line x1="404.28" y1="255.13" x2="408.68" y2="255.13" stroke="#231f20" stroke-width="0.9"/>
<line x1="404.28" y1="258.83" x2="408.68" y2="258.83" stroke="#231f20" stroke-width="0.9"/>
<circle cx="281.75" cy="257.90" r="1.9" fill="#fff" stroke="#35a7dd" stroke-width="1.0"/>
<circle cx="287.50" cy="259.30" r="1.9" fill="#fff" stroke="#35a7dd" stroke-width="1.0"/>
<circle cx="284.30" cy="260.80" r="1.9" fill="#fff" stroke="#35a7dd" stroke-width="1.0"/>
<circle cx="283.70" cy="264.10" r="1.9" fill="#fff" stroke="#35a7dd" stroke-width="1.0"/>
<circle cx="285.60" cy="262.40" r="1.9" fill="#fff" stroke="#35a7dd" stroke-width="1.0"/>
<circle cx="299.10" cy="192.30" r="2.35" fill="#cc1236"/>
<circle cx="299.10" cy="198.50" r="2.35" fill="#cc1236"/>
<circle cx="296.20" cy="210.10" r="2.35" fill="#cc1236"/>
<circle cx="302.00" cy="211.00" r="2.35" fill="#cc1236"/>
<circle cx="303.50" cy="213.90" r="2.35" fill="#cc1236"/>
<circle cx="296.20" cy="218.20" r="2.35" fill="#cc1236"/>
<circle cx="300.60" cy="216.80" r="2.35" fill="#cc1236"/>
<circle cx="298.60" cy="214.90" r="2.35" fill="#cc1236"/>
<rect x="309.49" y="202.19" width="4.23" height="4.23" fill="#1f5b98"/>
<rect x="315.69" y="205.69" width="4.23" height="4.23" fill="#1f5b98"/>
<rect x="312.38" y="212.19" width="4.23" height="4.23" fill="#1f5b98"/>
<rect x="309.49" y="218.19" width="4.23" height="4.23" fill="#1f5b98"/>
<rect x="316.28" y="217.19" width="4.23" height="4.23" fill="#1f5b98"/>
<rect x="316.28" y="223.38" width="4.23" height="4.23" fill="#1f5b98"/>
<rect x="309.49" y="224.88" width="4.23" height="4.23" fill="#1f5b98"/>
<path d="M330.00 191.60L332.70 196.33L327.30 196.33Z" fill="#3cb44b"/>
<path d="M330.00 198.10L332.70 202.83L327.30 202.83Z" fill="#3cb44b"/>
<path d="M330.00 211.20L332.70 215.93L327.30 215.93Z" fill="#3cb44b"/>
<path d="M330.00 218.00L332.70 222.73L327.30 222.73Z" fill="#3cb44b"/>
<path d="M326.70 226.30L329.40 231.03L324.00 231.03Z" fill="#3cb44b"/>
<path d="M333.20 228.20L335.90 232.93L330.50 232.93Z" fill="#3cb44b"/>
<path d="M330.00 243.10L332.70 247.83L327.30 247.83Z" fill="#3cb44b"/>
<path d="M345.60 192.50L348.30 187.77L342.90 187.77Z" fill="#5a2d82"/>
<path d="M342.30 211.80L345.00 207.07L339.60 207.07Z" fill="#5a2d82"/>
<path d="M348.10 215.70L350.80 210.97L345.40 210.97Z" fill="#5a2d82"/>
<path d="M342.30 218.90L345.00 214.17L339.60 214.17Z" fill="#5a2d82"/>
<path d="M348.10 220.50L350.80 215.77L345.40 215.77Z" fill="#5a2d82"/>
<path d="M342.30 229.10L345.00 224.37L339.60 224.37Z" fill="#5a2d82"/>
<path d="M348.10 231.60L350.80 226.87L345.40 226.87Z" fill="#5a2d82"/>
<path d="M345.60 235.90L348.30 231.17L342.90 231.17Z" fill="#5a2d82"/>
<path d="M361.00 205.68L363.82 208.50L361.00 211.32L358.18 208.50Z" fill="#f7941d"/>
<path d="M361.00 216.88L363.82 219.70L361.00 222.52L358.18 219.70Z" fill="#f7941d"/>
<path d="M357.70 222.68L360.52 225.50L357.70 228.32L354.88 225.50Z" fill="#f7941d"/>
<path d="M363.90 228.08L366.72 230.90L363.90 233.72L361.08 230.90Z" fill="#f7941d"/>
<path d="M358.50 227.48L361.32 230.30L358.50 233.12L355.68 230.30Z" fill="#f7941d"/>
<path d="M359.70 236.18L362.52 239.00L359.70 241.82L356.88 239.00Z" fill="#f7941d"/>
<path d="M363.00 235.18L365.82 238.00L363.00 240.82L360.18 238.00Z" fill="#f7941d"/>
<circle cx="375.50" cy="211.00" r="2.35" fill="#0e6b55"/>
<circle cx="375.50" cy="217.40" r="2.35" fill="#0e6b55"/>
<circle cx="375.50" cy="224.50" r="2.35" fill="#0e6b55"/>
<circle cx="375.50" cy="231.30" r="2.35" fill="#0e6b55"/>
<circle cx="378.90" cy="240.90" r="2.35" fill="#0e6b55"/>
<circle cx="375.80" cy="241.30" r="2.35" fill="#0e6b55"/>
<circle cx="373.20" cy="243.80" r="2.35" fill="#0e6b55"/>
<rect x="388.78" y="199.28" width="4.23" height="4.23" fill="#9c8fd0"/>
<rect x="390.28" y="213.28" width="4.23" height="4.23" fill="#9c8fd0"/>
<rect x="387.78" y="215.98" width="4.23" height="4.23" fill="#9c8fd0"/>
<rect x="388.78" y="224.28" width="4.23" height="4.23" fill="#9c8fd0"/>
<rect x="391.69" y="231.08" width="4.23" height="4.23" fill="#9c8fd0"/>
<rect x="387.19" y="233.38" width="4.23" height="4.23" fill="#9c8fd0"/>
<rect x="390.28" y="242.58" width="4.23" height="4.23" fill="#9c8fd0"/>
<rect x="388.38" y="246.48" width="4.23" height="4.23" fill="#9c8fd0"/>
<path d="M404.40 248.80L407.10 253.53L401.70 253.53Z" fill="#3b4f6b"/>
<path d="M409.20 249.30L411.90 254.03L406.50 254.03Z" fill="#3b4f6b"/>
<path d="M406.70 252.00L409.40 256.73L404.00 256.73Z" fill="#3b4f6b"/>
<path d="M404.40 255.10L407.10 259.83L401.70 259.83Z" fill="#3b4f6b"/>
<path d="M409.20 255.50L411.90 260.23L406.50 260.23Z" fill="#3b4f6b"/>
<path d="M406.70 259.30L409.40 264.03L404.00 264.03Z" fill="#3b4f6b"/>
<path d="M406.70 263.20L409.40 267.93L404.00 267.93Z" fill="#3b4f6b"/>
<line x1="391.00" y1="177.80" x2="406.70" y2="177.80" stroke="#231f20" stroke-width="0.9"/>
<line x1="374.30" y1="187.00" x2="406.70" y2="187.00" stroke="#231f20" stroke-width="0.9"/>
<line x1="360.60" y1="197.00" x2="406.70" y2="197.00" stroke="#231f20" stroke-width="0.9"/>
<circle cx="394.1" cy="172.9" r="1.15" fill="#111"/>
<circle cx="397.5" cy="172.9" r="1.15" fill="#111"/>
<circle cx="400.9" cy="172.9" r="1.15" fill="#111"/>
<circle cx="404.3" cy="172.9" r="1.15" fill="#111"/>
<circle cx="395.9" cy="182.0" r="1.15" fill="#111"/>
<circle cx="399.4" cy="182.0" r="1.15" fill="#111"/>
<circle cx="402.9" cy="182.0" r="1.15" fill="#111"/>
<circle cx="394.1" cy="192.1" r="1.15" fill="#111"/>
<circle cx="397.5" cy="192.1" r="1.15" fill="#111"/>
<circle cx="400.9" cy="192.1" r="1.15" fill="#111"/>
<circle cx="404.3" cy="192.1" r="1.15" fill="#111"/>
<circle cx="430.6" cy="179.00" r="1.9" fill="#fff" stroke="#35a7dd" stroke-width="1.0"/>
<text x="438.30" y="181.50" font-size="7.0" text-anchor="start" font-weight="normal" fill="#231f20" stroke="#231f20" stroke-width="0.2">Before</text>
<circle cx="430.60" cy="187.70" r="2.30" fill="#cc1236"/>
<text x="438.30" y="190.20" font-size="7.0" text-anchor="start" font-weight="normal" fill="#231f20" stroke="#231f20" stroke-width="0.2">Vehicle</text>
<rect x="428.53" y="196.73" width="4.14" height="4.14" fill="#1f5b98"/>
<text x="438.30" y="201.30" font-size="7.0" text-anchor="start" font-weight="normal" fill="#231f20" stroke="#231f20" stroke-width="0.2">I-BET762</text>
<path d="M430.60 207.35L433.25 211.98L427.96 211.98Z" fill="#3cb44b"/>
<text x="438.30" y="212.50" font-size="7.0" text-anchor="start" font-weight="normal" fill="#231f20" stroke="#231f20" stroke-width="0.2">Copanlisib</text>
<path d="M430.60 224.55L433.25 219.92L427.96 219.92Z" fill="#5a2d82"/>
<text x="438.30" y="224.40" font-size="7.0" text-anchor="start" font-weight="normal" fill="#231f20" stroke="#231f20" stroke-width="0.2">Bardoxolone</text>
<path d="M430.60 230.94L433.36 233.70L430.60 236.46L427.84 233.70Z" fill="#f7941d"/>
<text x="438.30" y="236.20" font-size="7.0" text-anchor="start" font-weight="normal" fill="#231f20" stroke="#231f20" stroke-width="0.2">I-BET762+copanlisib</text>
<circle cx="430.60" cy="243.30" r="2.30" fill="#0e6b55"/>
<text x="438.30" y="245.80" font-size="7.0" text-anchor="start" font-weight="normal" fill="#231f20" stroke="#231f20" stroke-width="0.2">I-BET762+bardoxolone</text>
<rect x="428.53" y="252.13" width="4.14" height="4.14" fill="#9c8fd0"/>
<text x="438.30" y="256.70" font-size="7.0" text-anchor="start" font-weight="normal" fill="#231f20" stroke="#231f20" stroke-width="0.2">Copanlisib+bardoxolone</text>
<path d="M430.60 263.16L433.25 267.78L427.96 267.78Z" fill="#3b4f6b"/>
<text x="438.30" y="268.30" font-size="7.0" text-anchor="start" font-weight="normal" fill="#231f20" stroke="#231f20" stroke-width="0.2">Triple</text>
<text x="75.25" y="322.30" font-size="7.55" text-anchor="middle" font-weight="normal" fill="#231f20" stroke="#231f20" stroke-width="0.2">Human c-MYC</text>
<text x="31.20" y="356.10" font-size="7.7" text-anchor="end" font-weight="normal" fill="#231f20" stroke="#231f20" stroke-width="0.2">Vehicle</text>
<text x="30.80" y="402.40" font-size="7.7" text-anchor="end" font-weight="normal" fill="#231f20" stroke="#231f20" stroke-width="0.2">Triple</text>
<text x="30.80" y="411.90" font-size="7.7" text-anchor="end" font-weight="normal" fill="#231f20" stroke="#231f20" stroke-width="0.2">(day 5)</text>
<filter id="ihcV" x="0" y="0" width="100%" height="100%" color-interpolation-filters="sRGB"><feTurbulence type="fractalNoise" baseFrequency="0.3" numOctaves="2" seed="3" result="n"/><feColorMatrix in="n" type="matrix" values="1 0 0 0 0 1 0 0 0 0 1 0 0 0 0 0 0 0 0 1"/><feComponentTransfer result="bg"><feFuncR type="table" tableValues="0.839 0.829 0.819 0.808 0.798 0.788 0.777 0.767 0.739 0.685 0.694 0.711 0.696 0.685 0.677 0.669 0.660 0.652 0.644 0.636 0.627"/><feFuncG type="table" tableValues="0.808 0.799 0.789 0.780 0.771 0.761 0.752 0.743 0.717 0.665 0.657 0.648 0.594 0.563 0.547 0.531 0.515 0.499 0.483 0.467 0.451"/><feFuncB type="table" tableValues="0.839 0.835 0.831 0.827 0.823 0.819 0.814 0.810 0.798 0.774 0.729 0.667 0.549 0.489 0.466 0.444 0.422 0.400 0.378 0.356 0.333"/></feComponentTransfer><feTurbulence type="fractalNoise" baseFrequency="0.55" numOctaves="1" seed="5" result="n2"/><feColorMatrix in="n2" type="matrix" values="0 0 0 0 0.412 0 0 0 0 0.220 0 0 0 0 0.102 1 0 0 0 0"/><feComponentTransfer result="nuc"><feFuncA type="table" tableValues="0 0 0 0 0 0.18 0.75 1 1 1 1"/></feComponentTransfer><feMerge><feMergeNode in="bg"/><feMergeNode in="nuc"/></feMerge><feGaussianBlur stdDeviation="0.45"/></filter>
<filter id="ihcT" x="0" y="0" width="100%" height="100%" color-interpolation-filters="sRGB"><feTurbulence type="fractalNoise" baseFrequency="0.3" numOctaves="2" seed="11" result="n"/><feColorMatrix in="n" type="matrix" values="1 0 0 0 0 1 0 0 0 0 1 0 0 0 0 0 0 0 0 1"/><feComponentTransfer result="bg"><feFuncR type="table" tableValues="0.886 0.878 0.871 0.863 0.855 0.847 0.839 0.831 0.824 0.730 0.668 0.653 0.671 0.739 0.743 0.730 0.717 0.705 0.692 0.679 0.667"/><feFuncG type="table" tableValues="0.855 0.848 0.840 0.833 0.825 0.818 0.811 0.803 0.796 0.710 0.653 0.637 0.637 0.662 0.646 0.620 0.594 0.568 0.542 0.516 0.490"/><feFuncB type="table" tableValues="0.871 0.867 0.863 0.859 0.855 0.851 0.847 0.843 0.839 0.800 0.773 0.765 0.727 0.644 0.597 0.560 0.522 0.485 0.448 0.410 0.373"/></feComponentTransfer><feTurbulence type="fractalNoise" baseFrequency="0.55" numOctaves="1" seed="17" result="n2"/><feColorMatrix in="n2" type="matrix" values="0 0 0 0 0.490 0 0 0 0 0.282 0 0 0 0 0.149 1 0 0 0 0"/><feComponentTransfer result="nuc"><feFuncA type="table" tableValues="0 0 0 0 0 0 0.4 0.95 1 1 1"/></feComponentTransfer><feMerge><feMergeNode in="bg"/><feMergeNode in="nuc"/></feMerge><feGaussianBlur stdDeviation="0.45"/></filter>
</defs>
<rect x="33.9" y="325.0" width="82.0" height="52.6" filter="url(#ihcV)"/>
<rect x="33.9" y="377.6" width="82.0" height="0.9" fill="#e6e0e4"/>
<rect x="33.9" y="378.5" width="82.0" height="53.3" filter="url(#ihcT)"/>
<line x1="34.00" y1="435.50" x2="61.50" y2="435.50" stroke="#222" stroke-width="1.2"/>
<text x="48.20" y="444.40" font-size="8.0" text-anchor="middle" font-weight="normal" fill="#231f20" stroke="#231f20" stroke-width="0.2">100 &#956;m</text>
<line x1="164.70" y1="339.60" x2="164.70" y2="418.70" stroke="#000" stroke-width="1"/>
<line x1="163.80" y1="418.20" x2="219.20" y2="418.20" stroke="#000" stroke-width="1"/>
<line x1="161.80" y1="418.20" x2="164.70" y2="418.20" stroke="#000" stroke-width="1"/>
<text x="158.80" y="420.90" font-size="7.6" text-anchor="end" font-weight="normal" fill="#231f20" stroke="#231f20" stroke-width="0.2">0</text>
<line x1="161.80" y1="399.60" x2="164.70" y2="399.60" stroke="#000" stroke-width="1"/>
<text x="158.80" y="402.30" font-size="7.6" text-anchor="end" font-weight="normal" fill="#231f20" stroke="#231f20" stroke-width="0.2">20</text>
<line x1="161.80" y1="381.00" x2="164.70" y2="381.00" stroke="#000" stroke-width="1"/>
<text x="158.80" y="383.70" font-size="7.6" text-anchor="end" font-weight="normal" fill="#231f20" stroke="#231f20" stroke-width="0.2">40</text>
<line x1="161.80" y1="362.40" x2="164.70" y2="362.40" stroke="#000" stroke-width="1"/>
<text x="158.80" y="365.10" font-size="7.6" text-anchor="end" font-weight="normal" fill="#231f20" stroke="#231f20" stroke-width="0.2">60</text>
<line x1="161.80" y1="343.80" x2="164.70" y2="343.80" stroke="#000" stroke-width="1"/>
<text x="158.80" y="346.50" font-size="7.6" text-anchor="end" font-weight="normal" fill="#231f20" stroke="#231f20" stroke-width="0.2">80</text>
<text transform="translate(144.00 378.90) rotate(-90)" font-size="9.6" text-anchor="middle" fill="#231f20" stroke="#231f20" stroke-width="0.5" textLength="68.2" lengthAdjust="spacingAndGlyphs">% c-MYC positive nuclei</text>
<rect x="173.9" y="365.47" width="14.5" height="52.73" fill="#e07c8f"/>
<rect x="196.9" y="389.74" width="14.6" height="28.46" fill="#a3adbb"/>
<line x1="181.20" y1="418.20" x2="181.20" y2="420.80" stroke="#000" stroke-width="1"/>
<line x1="204.20" y1="418.20" x2="204.20" y2="420.80" stroke="#000" stroke-width="1"/>
<line x1="181.20" y1="361.00" x2="181.20" y2="369.30" stroke="#231f20" stroke-width="0.9"/>
<line x1="177.90" y1="361.00" x2="184.50" y2="361.00" stroke="#231f20" stroke-width="0.9"/>
<line x1="177.90" y1="369.30" x2="184.50" y2="369.30" stroke="#231f20" stroke-width="0.9"/>
<line x1="204.20" y1="383.50" x2="204.20" y2="395.60" stroke="#231f20" stroke-width="0.9"/>
<line x1="200.90" y1="383.50" x2="207.50" y2="383.50" stroke="#231f20" stroke-width="0.9"/>
<line x1="200.90" y1="395.60" x2="207.50" y2="395.60" stroke="#231f20" stroke-width="0.9"/>
<circle cx="181.20" cy="356.90" r="2.25" fill="#cc1236"/>
<circle cx="181.20" cy="361.80" r="2.25" fill="#cc1236"/>
<circle cx="181.20" cy="368.80" r="2.25" fill="#cc1236"/>
<circle cx="181.20" cy="373.70" r="2.25" fill="#cc1236"/>
<path d="M204.20 377.58L206.61 381.81L201.78 381.81Z" fill="#3b4f6b"/>
<path d="M204.20 381.58L206.61 385.81L201.78 385.81Z" fill="#3b4f6b"/>
<path d="M204.20 389.08L206.61 393.31L201.78 393.31Z" fill="#3b4f6b"/>
<path d="M204.20 404.19L206.61 408.41L201.78 408.41Z" fill="#3b4f6b"/>
<text x="193.20" y="347.60" font-size="8.0" text-anchor="middle" font-weight="normal" fill="#231f20" textLength="38.5" lengthAdjust="spacingAndGlyphs" stroke="#231f20" stroke-width="0.2">p = 0.0127</text>
<line x1="181.70" y1="351.50" x2="204.80" y2="351.50" stroke="#231f20" stroke-width="0.9"/>
<text transform="translate(186.3 426.6) rotate(-45)" font-size="7.6" text-anchor="end" fill="#231f20" stroke="#231f20" stroke-width="0.12">Vehicle</text>
<text transform="translate(209.0 426.8) rotate(-45)" font-size="7.6" text-anchor="end" fill="#231f20" stroke="#231f20" stroke-width="0.12">Triple</text>
<text x="376.30" y="324.70" font-size="7.3" text-anchor="middle" font-weight="normal" fill="#231f20" stroke="#231f20" stroke-width="0.2">I-BET762</text>
<ellipse cx="376.3" cy="371.3" rx="43.5" ry="41.3" fill="none" stroke="#000" stroke-width="1.0"/>
<line x1="376.30" y1="332.00" x2="341.30" y2="390.40" stroke="#3cb44b" stroke-width="1.0"/>
<line x1="376.30" y1="332.00" x2="411.50" y2="390.40" stroke="#3cb44b" stroke-width="2.0"/>
<line x1="341.30" y1="390.40" x2="411.50" y2="390.40" stroke="#3cb44b" stroke-width="2.0"/>
<circle cx="376.3" cy="329.6" r="2.0" fill="#cc1236"/>
<rect x="412.0" y="390.0" width="3.6" height="3.6" fill="#1f5b98"/>
<path d="M338.6 390.4 L341.2 394.4 L336.0 394.4 Z" fill="#3cb44b"/>
<text x="317.10" y="401.00" font-size="7.2" text-anchor="middle" font-weight="normal" fill="#231f20" stroke="#231f20" stroke-width="0.2">Bardoxolone</text>
<text x="317.10" y="409.00" font-size="7.2" text-anchor="middle" font-weight="normal" fill="#231f20" stroke="#231f20" stroke-width="0.2">methyl</text>
<text x="417.10" y="399.80" font-size="7.3" text-anchor="start" font-weight="normal" fill="#231f20" stroke="#231f20" stroke-width="0.2">Copanlisib</text>
<line x1="337.30" y1="425.40" x2="349.90" y2="425.40" stroke="#3cb44b" stroke-width="2.0"/>
<line x1="337.30" y1="435.40" x2="349.90" y2="435.40" stroke="#3cb44b" stroke-width="1.0"/>
<text x="352.80" y="427.90" font-size="7.0" text-anchor="start" font-weight="normal" fill="#231f20" stroke="#231f20" stroke-width="0.2">Strong synergism</text>
<text x="352.80" y="437.90" font-size="7.0" text-anchor="start" font-weight="normal" fill="#231f20" stroke="#231f20" stroke-width="0.2">Moderate synergism</text>
<g shape-rendering="crispEdges"><rect x="0" y="0" width="520" height="1" fill="#000"/><rect x="0" y="1" width="520" height="1" fill="#000" fill-opacity="0.22"/><rect x="0" y="450" width="520" height="1" fill="#000"/><rect x="0" y="449" width="520" height="1" fill="#000" fill-opacity="0.22"/><rect x="0" y="0" width="1" height="451" fill="#000"/><rect x="1" y="1" width="1" height="448" fill="#000" fill-opacity="0.45"/><rect x="519" y="0" width="1" height="451" fill="#000"/><rect x="518" y="1" width="1" height="448" fill="#000" fill-opacity="0.22"/></g>
</svg>
</body></html>
